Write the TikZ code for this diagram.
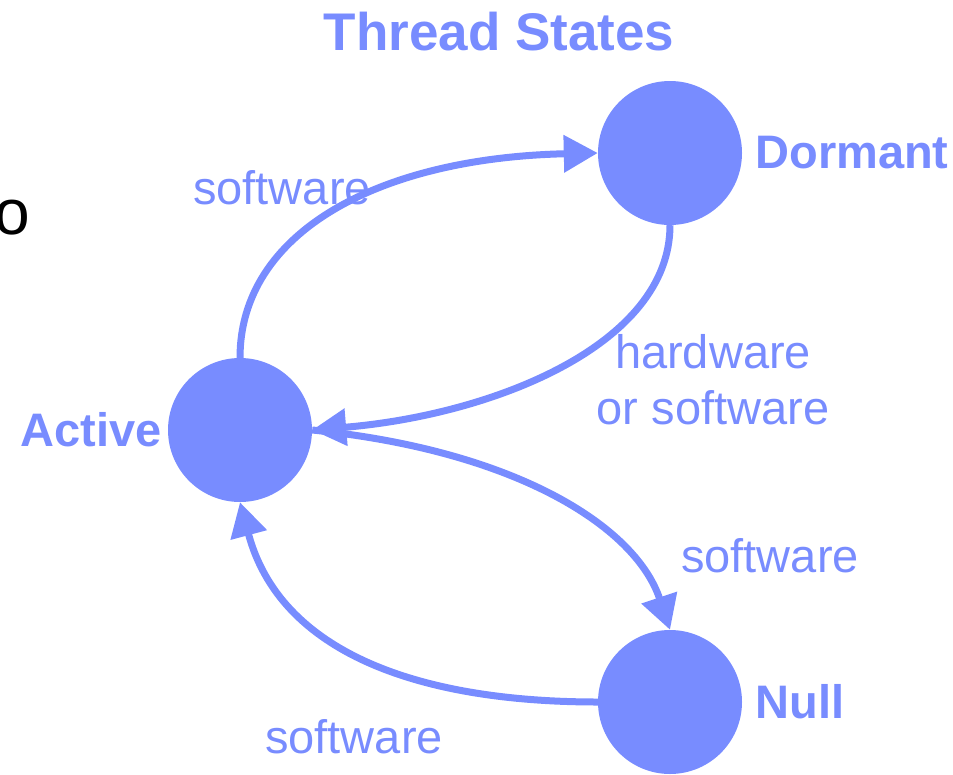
\documentclass[tikz,border=0pt]{standalone}
\usepackage{fontspec}
\setmainfont{Liberation Sans}
\usetikzlibrary{positioning,arrows.meta}
\definecolor{stateblue}{RGB}{120,140,255}

\begin{document}
\begin{tikzpicture}[x=1pt,y=-1pt,node distance=8pt]
            \tikzstyle{state} = [circle, fill=stateblue, minimum size=144pt, inner sep=0pt]
            \tikzstyle{statename} = [text=stateblue, font=\fontsize{47}{52}\selectfont\bfseries, inner sep=0pt]
            \tikzstyle{cause} = [text=stateblue, font=\fontsize{47}{56}\selectfont, inner sep=0pt, align=center]
            \tikzstyle{arrow} = [draw=stateblue, line width=7pt, -{Triangle[length=34pt,width=36pt]}]

            \useasboundingbox (0,0) rectangle (953,774);

            % Title and cut-off text
            \node (title) [statename, font=\fontsize{53}{58}\selectfont\bfseries] at (499,32) {Thread States};
            \node (stray) [inner sep=0pt, font=\fontsize{64}{70}\selectfont] at (12,218) {o};

            % States
            \node (dor) [state] at (670,153) {};
            \node (act) [state] at (240,430) {};
            \node (nul) [state] at (670,702) {};
            \node (dorname) [statename, right=13pt of dor] {Dormant};
            \node (actname) [statename, left=6pt of act] {Active};
            \node (nulname) [statename, right=13pt of nul] {Null};

            % Transition labels
            \node (sw1) [cause] at (282,188) {software};
            \node (hwsw) [cause] at (713,380) {hardware\\or software};
            \node (sw2) [cause] at (770,556) {software};
            \node (sw3) [cause] at (354,737) {software};

            % Transitions
            \draw [arrow] (act.north) .. controls +(0,-125) and +(-220,5) .. (dor.west);
            \draw [arrow] (dor.south) .. controls +(0,120) and +(180,-15) .. (act.east);
            \draw [arrow] (act.east) .. controls +(200,20) and +(-35,-105) .. (nul.north);
            \draw [arrow] (nul.west) .. controls +(-180,0) and +(40,150) .. (act.south);
        \end{tikzpicture}
\end{document}
